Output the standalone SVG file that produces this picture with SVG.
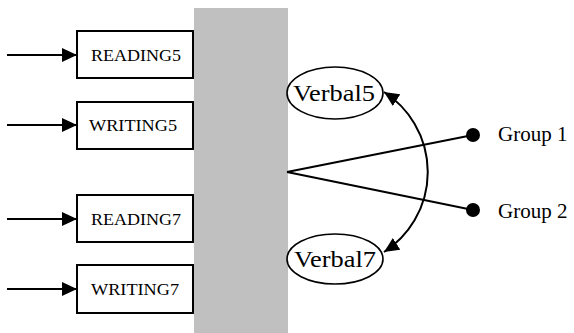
<svg xmlns="http://www.w3.org/2000/svg" width="574" height="333" viewBox="0 0 574 333">
<style>
.box{fill:#fff;stroke:#000;stroke-width:2}
.ell{fill:#fff;stroke:#000;stroke-width:1.6}
.ln{fill:none;stroke:#000;stroke-width:2}
.t{font-family:"Liberation Serif","Times New Roman",serif;fill:#000}
.bt{font-size:17px}
.lt{font-size:21px}
.vt{font-size:23px}
</style>
<defs>
<marker id="ah" markerWidth="15" markerHeight="14" refX="15" refY="7" orient="auto-start-reverse" markerUnits="userSpaceOnUse">
<path d="M0,0 L15,7 L0,14 Z" fill="#000"/>
</marker>
</defs>
<g id="READING5"><rect class="box" x="77" y="31" width="116" height="47"/><text class="t bt" x="136" y="61" text-anchor="middle" textLength="90" lengthAdjust="spacingAndGlyphs">READING5</text></g>
<g id="WRITING5"><rect class="box" x="77" y="102" width="116" height="47"/><text class="t bt" x="133" y="131" text-anchor="middle" textLength="88" lengthAdjust="spacingAndGlyphs">WRITING5</text></g>
<g id="READING7"><rect class="box" x="77" y="195" width="116" height="47"/><text class="t bt" x="136" y="225" text-anchor="middle" textLength="90" lengthAdjust="spacingAndGlyphs">READING7</text></g>
<g id="WRITING7"><rect class="box" x="77" y="265" width="116" height="48"/><text class="t bt" x="135" y="295" text-anchor="middle" textLength="88" lengthAdjust="spacingAndGlyphs">WRITING7</text></g>
<g id="block"><rect x="194" y="8" width="94" height="325" fill="#c0c0c0"/></g>
<g id="Verbal5"><ellipse class="ell" cx="335" cy="93" rx="48" ry="26"/><text class="t vt" x="334" y="101" text-anchor="middle" textLength="82" lengthAdjust="spacingAndGlyphs">Verbal5</text></g>
<g id="Verbal7"><ellipse class="ell" cx="335" cy="259" rx="48" ry="25"/><text class="t vt" x="335" y="267" text-anchor="middle" textLength="82" lengthAdjust="spacingAndGlyphs">Verbal7</text></g>
<g id="Group1"><circle cx="473" cy="135" r="7" fill="#000"/><text class="t lt" x="498" y="141">Group 1</text></g>
<g id="Group2"><circle cx="473" cy="210" r="7" fill="#000"/><text class="t lt" x="498" y="218">Group 2</text></g>
<g id="connectors">
<line class="ln" x1="7" y1="55" x2="77" y2="55" marker-end="url(#ah)"/>
<line class="ln" x1="7" y1="125" x2="77" y2="125" marker-end="url(#ah)"/>
<line class="ln" x1="7" y1="219" x2="77" y2="219" marker-end="url(#ah)"/>
<line class="ln" x1="7" y1="289" x2="77" y2="289" marker-end="url(#ah)"/>
<line class="ln" x1="287" y1="172" x2="473" y2="135"/>
<line class="ln" x1="287" y1="172" x2="473" y2="210"/>
<path class="ln" d="M384,92 A95,95 0 0 1 384,252" marker-start="url(#ah)" marker-end="url(#ah)"/>
</g>
</svg>
